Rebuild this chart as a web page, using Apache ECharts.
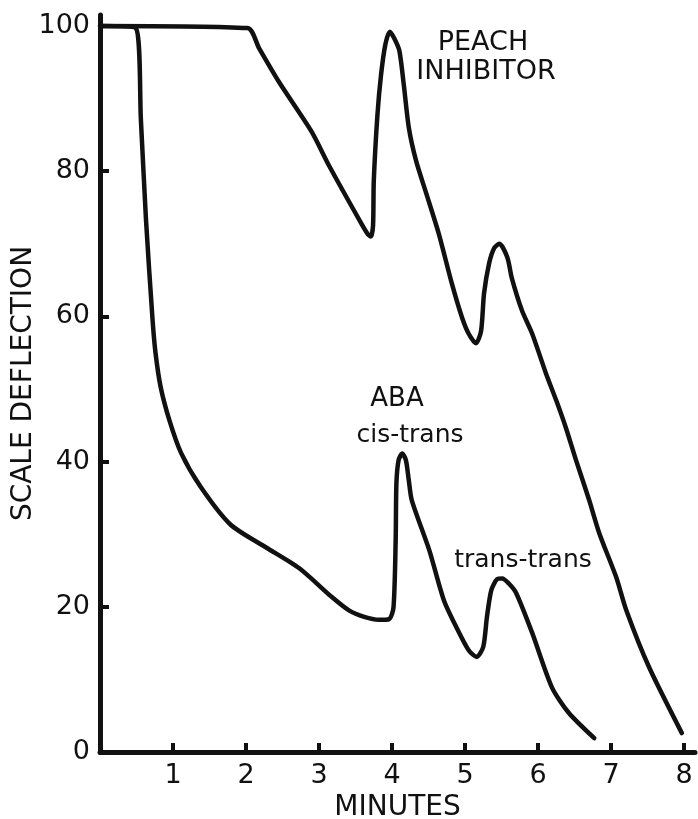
<!DOCTYPE html>
<html>
<head>
<meta charset="utf-8">
<script src="https://cdn.jsdelivr.net/npm/echarts@6/dist/echarts.min.js"></script>
<style>
  html, body { margin: 0; padding: 0; background: #fff; }
  #chart { width: 698px; height: 819px; }
</style>
</head>
<body>
<div id="chart"></div>
<script>
// 坐标轴刻度
const xTicks = [1, 2, 3, 4, 5, 6, 7, 8]
const yTicks = [0, 20, 40, 60, 80, 100]

// ABA 曲线 (分钟, 偏转)
const abaCurve = [
  [0, 100], [0.49, 99.7], [0.56, 87.1], [0.63, 73.3], [0.72, 59.5], [0.76, 55.0],
  [0.83, 50.3], [0.95, 45.7], [1.11, 41.2], [1.38, 36.5], [1.79, 31.3], [2.27, 28.2],
  [2.73, 25.3], [3.18, 21.3], [3.41, 19.5], [3.62, 18.6], [3.82, 18.2], [3.96, 18.3],
  [4.02, 19.9], [4.05, 29.2], [4.06, 37.0], [4.09, 40.2], [4.14, 41.1], [4.19, 40.2],
  [4.23, 37.4], [4.27, 34.7], [4.51, 27.8], [4.71, 20.9], [4.88, 17.2], [5.05, 14.0],
  [5.16, 13.1], [5.25, 14.5], [5.30, 18.6], [5.36, 22.3], [5.44, 23.8], [5.51, 23.9],
  [5.60, 23.2], [5.70, 21.9], [5.92, 16.4], [6.19, 8.9], [6.42, 5.4], [6.77, 1.9]
]

// 桃抑制剂曲线
const peachCurve = [
  [0, 100], [2.02, 99.7], [2.18, 96.9], [2.45, 92.3], [2.90, 85.4], [3.14, 80.7],
  [3.59, 72.6], [3.67, 71.3], [3.71, 71.0], [3.74, 72.5], [3.75, 78.6], [3.80, 87.7],
  [3.85, 93.3], [3.91, 97.5], [3.97, 99.2], [4.03, 98.3], [4.10, 96.6], [4.16, 92.0],
  [4.23, 86.0], [4.33, 81.4], [4.47, 76.9], [4.64, 71.4], [4.82, 64.5], [4.96, 59.8],
  [5.05, 57.6], [5.15, 56.3], [5.22, 58.0], [5.26, 63.1], [5.33, 67.3], [5.40, 69.4],
  [5.47, 70.0], [5.58, 68.1], [5.64, 65.3], [5.78, 60.8], [5.92, 57.6], [6.11, 52.1],
  [6.25, 48.4], [6.38, 44.7], [6.52, 40.2], [6.70, 34.7], [6.84, 30.1], [7.07, 24.1],
  [7.21, 19.5], [7.52, 11.7], [7.97, 2.6]
]

const FONT = 'DejaVu Sans'
const INK = '#111'

var myChart = echarts.init(document.getElementById('chart'))

function lineSeries(name, data) {
  return {
    name: name,
    type: 'line',
    data: data,
    showSymbol: false,
    smooth: 0.25,
    lineStyle: { color: INK, width: 4.5, join: 'round', cap: 'round' }
  }
}

function note(text, x, y, size) {
  return {
    type: 'text', x: x, y: y,
    style: { text: text, fill: INK, font: size + 'px "DejaVu Sans"', align: 'center', verticalAlign: 'middle' }
  }
}

var option = {
  backgroundColor: '#fff',
  animation: false,
  grid: { left: 100, right: 3, top: 15, bottom: 67, outerBoundsMode: 'none', containLabel: false },
  xAxis: {
    type: 'value',
    min: 0,
    max: 8.15,
    name: 'MINUTES',
    nameLocation: 'middle',
    nameGap: 42,
    nameMoveOverlap: false,
    nameTextStyle: { color: INK, fontFamily: FONT, fontSize: 28 },
    axisLine: { lineStyle: { color: INK, width: 5 } },
    axisTick: { inside: true, length: 9, customValues: xTicks, lineStyle: { color: INK, width: 4 } },
    axisLabel: { customValues: xTicks, margin: 10, color: INK, fontFamily: FONT, fontSize: 27 },
    splitLine: { show: false }
  },
  yAxis: {
    type: 'value',
    min: 0,
    max: 101.5,
    name: 'SCALE DEFLECTION',
    nameLocation: 'middle',
    nameRotate: 90,
    nameGap: 62,
    nameMoveOverlap: false,
    nameTextStyle: { color: INK, fontFamily: FONT, fontSize: 28 },
    axisLine: { show: true, lineStyle: { color: INK, width: 5 } },
    axisTick: { show: true, inside: true, length: 9, customValues: [20, 40, 60, 80], lineStyle: { color: INK, width: 4 } },
    axisLabel: { customValues: yTicks, margin: 10, color: INK, fontFamily: FONT, fontSize: 27 },
    splitLine: { show: false }
  },
  series: [
    lineSeries('ABA', abaCurve),
    lineSeries('PEACH INHIBITOR', peachCurve)
  ],
  graphic: [
    note('PEACH', 483, 43, 27),
    note('INHIBITOR', 486, 72, 27),
    note('ABA', 397, 399, 26),
    note('cis-trans', 410, 435, 25),
    note('trans-trans', 523, 560, 25)
  ]
}

option && myChart.setOption(option)
</script>
</body>
</html>
